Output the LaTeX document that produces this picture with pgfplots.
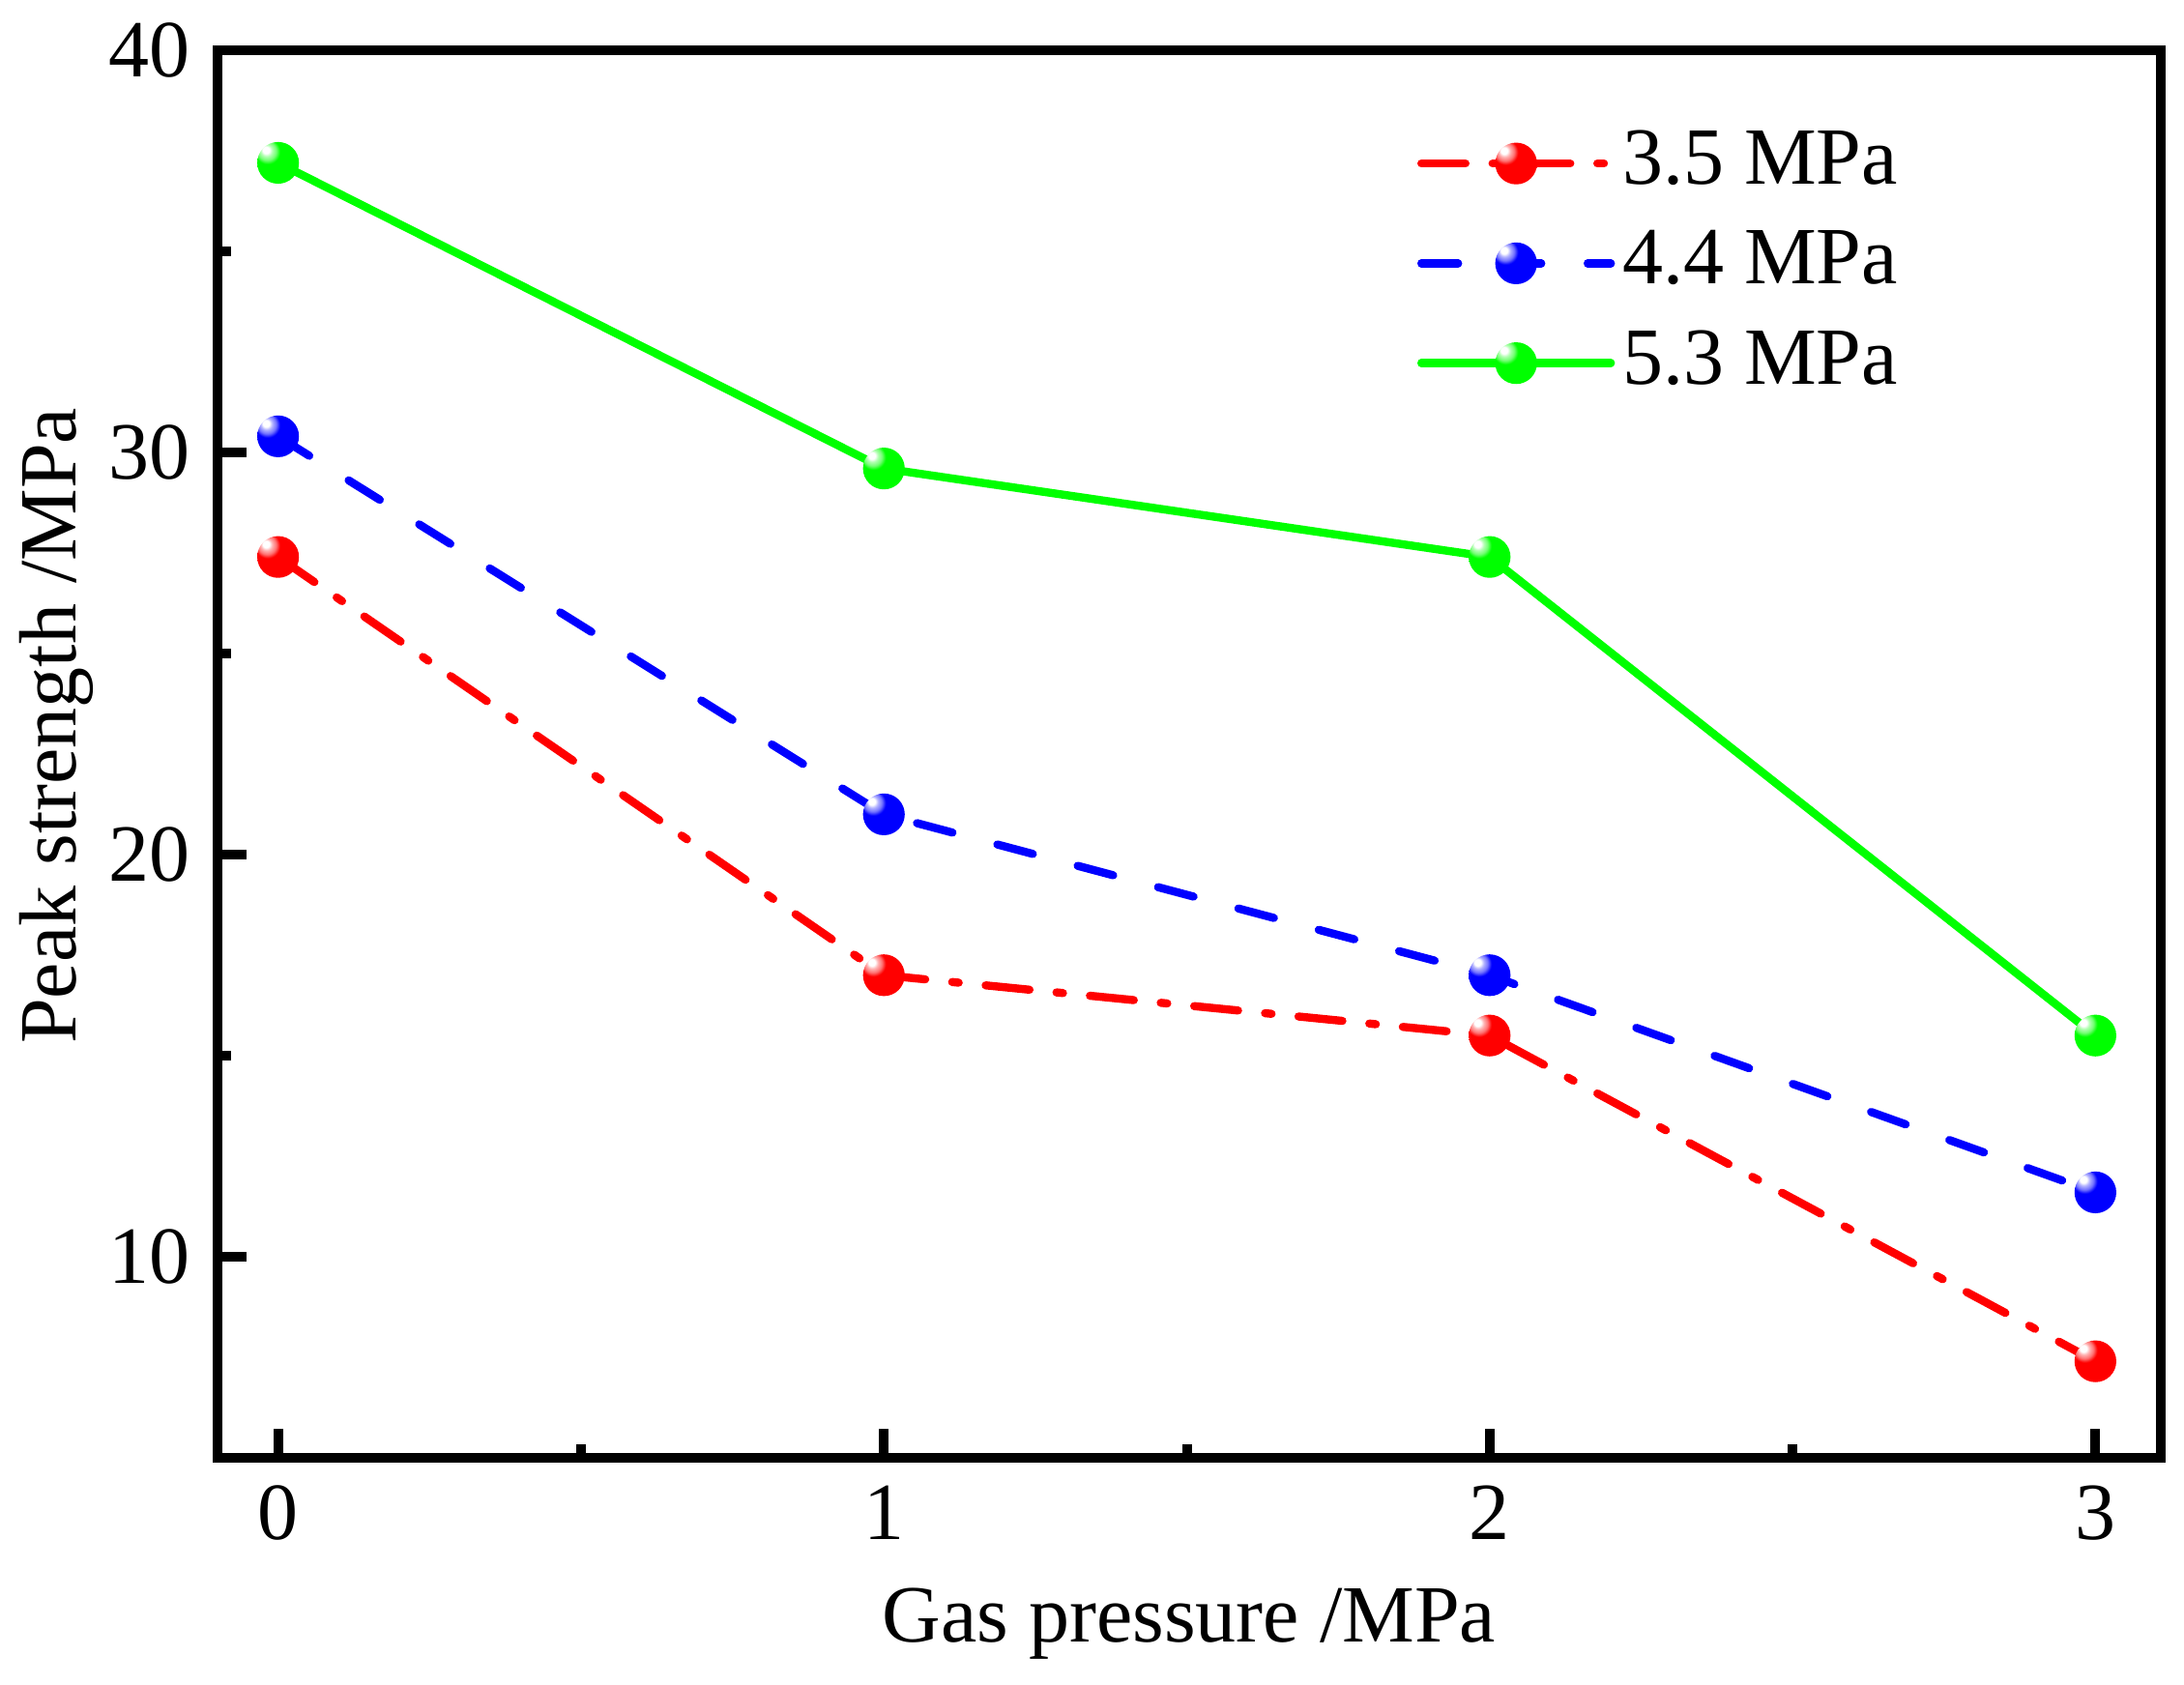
\documentclass[border=0pt]{standalone}
\usepackage{pgfplots}
\pgfplotsset{compat=1.18}
\usepackage{fontspec}
\setmainfont{Liberation Serif}

\definecolor{cred}{RGB}{255,0,0}
\definecolor{cblue}{RGB}{0,0,255}
\definecolor{cgreen}{RGB}{0,255,0}

% flat spheres with a small highlight, as in the original
\pgfdeclareradialshading{shR}{\pgfpoint{-15bp}{16bp}}{color(0bp)=(white); color(4bp)=(white); color(7bp)=(cred!30!white); color(11bp)=(cred!55!white); color(15bp)=(cred); color(100bp)=(cred)}
\pgfdeclareradialshading{shB}{\pgfpoint{-15bp}{16bp}}{color(0bp)=(white); color(4bp)=(white); color(7bp)=(cblue!30!white); color(11bp)=(cblue!55!white); color(15bp)=(cblue); color(100bp)=(cblue)}
\pgfdeclareradialshading{shG}{\pgfpoint{-15bp}{16bp}}{color(0bp)=(white); color(4bp)=(white); color(7bp)=(cgreen!30!white); color(11bp)=(cgreen!55!white); color(15bp)=(cgreen); color(100bp)=(cgreen)}
\pgfdeclareplotmark{ballR}{\pgfpathcircle{\pgfpointorigin}{\pgfplotmarksize}\pgfshadepath{shR}{0}\pgfusepath{}}
\pgfdeclareplotmark{ballB}{\pgfpathcircle{\pgfpointorigin}{\pgfplotmarksize}\pgfshadepath{shB}{0}\pgfusepath{}}
\pgfdeclareplotmark{ballG}{\pgfpathcircle{\pgfpointorigin}{\pgfplotmarksize}\pgfshadepath{shG}{0}\pgfusepath{}}

\begin{document}
\fontsize{21}{25}\selectfont
\begin{tikzpicture}
% page frame: 2259x1743 px at 0.25pt per px
\path[use as bounding box] (0,0) rectangle (564.75pt,435.75pt);
\begin{axis}[
    at={(56.25pt,58.75pt)}, anchor=south west,
    scale only axis,
    width=502.5pt, height=364pt,
    xmin=-0.1, xmax=3.108,
    ymin=5, ymax=40,
    xtick={0,1,2,3},
    ytick={10,20,30,40},
    minor x tick num=1,
    minor y tick num=1,
    tick align=inside,
    xtick pos=bottom, ytick pos=left,
    major tick length=7.5pt,
    minor tick length=3.5pt,
    every tick/.style={black, line width=2.5pt},
    axis line style={line width=2.5pt},
    /pgf/number format/assume math mode=true,
    ticklabel style={font=\fontsize{21}{25}\selectfont},
    label style={font=\fontsize{21}{25}\selectfont},
    xlabel={Gas pressure /MPa},
    ylabel={Peak strength /MPa},
    xlabel style={at={(axis description cs:0.5,-0.118)}, anchor=center},
    ylabel style={at={(axis description cs:-0.083,0.52)}, anchor=center},
    legend style={draw=none, fill=none, at={(rel axis cs:0.617,0.949)}, anchor=north west,
        font=\fontsize{21}{25}\selectfont, row sep=4.8pt, inner sep=0pt,
        nodes={inner sep=2pt}},
    legend cell align=left,
    legend image code/.code={
        \draw[mark repeat=2, mark phase=2, #1] plot coordinates {(0pt,0pt) (24.5pt,0pt) (49pt,0pt)};
    },
    every axis plot/.append style={line width=2.1pt, line cap=round, mark size=5.4pt},
]
\addplot[cred, dash pattern=on 11.4pt off 7pt on 1.7pt off 7pt, mark=ballR]
    coordinates {(0,27.4) (1,17.0) (2,15.5) (3,7.4)};
\addlegendentry{3.5 MPa}
\addplot[cblue, dash pattern=on 9.5pt off 12pt, mark=ballB]
    coordinates {(0,30.4) (1,21.0) (2,17.0) (3,11.6)};
\addlegendentry{4.4 MPa}
\addplot[cgreen, solid, mark=ballG]
    coordinates {(0,37.2) (1,29.6) (2,27.4) (3,15.5)};
\addlegendentry{5.3 MPa}
\end{axis}
\end{tikzpicture}
\end{document}
